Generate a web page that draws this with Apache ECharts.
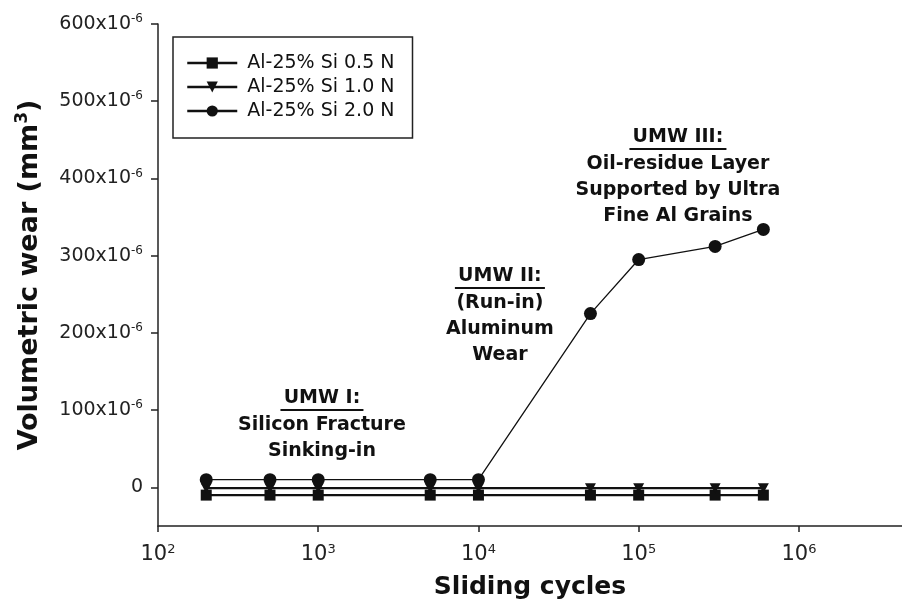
<!DOCTYPE html>
<html><head><meta charset="utf-8">
<script src="https://cdn.jsdelivr.net/npm/echarts@6/dist/echarts.min.js"></script>
<style>html,body{margin:0;padding:0;background:#fff}#c{width:902px;height:606px}</style>
</head><body><div id="c"></div>
<script>
// ---- data ----
const cycles = [200, 500, 1000, 5000, 10000, 50000, 100000, 300000, 600000];
const wear05 = [-10e-6, -10e-6, -10e-6, -10e-6, -10e-6, -10e-6, -10e-6, -10e-6, -10e-6];
const wear10 = [-1e-6, -1e-6, -1e-6, -1e-6, -1e-6, -1e-6, -1e-6, -1e-6, -1e-6];
const wear20 = [10e-6, 10e-6, 10e-6, 10e-6, 10e-6, 225e-6, 295e-6, 312e-6, 334e-6];
const seriesNames = ['Al-25% Si 0.5 N', 'Al-25% Si 1.0 N', 'Al-25% Si 2.0 N'];
const yTickValues = [0, 100e-6, 200e-6, 300e-6, 400e-6, 500e-6, 600e-6];
const xTickValues = [1e2, 1e3, 1e4, 1e5, 1e6];
const annoX = [1055, 13610, 175800];
const annoY = [79.5e-6, 220.6e-6, 400.6e-6];
const annoTitles = ['UMW I:', 'UMW II:', 'UMW III:'];
const annoLines = [
  ['Silicon Fracture', 'Sinking-in'],
  ['(Run-in)', 'Aluminum', 'Wear'],
  ['Oil-residue Layer', 'Supported by Ultra', 'Fine Al Grains']
];

const FONT = 'DejaVu Sans';
const INK = '#111';
const ctx = document.createElement('canvas').getContext('2d');
ctx.font = 'bold 19px "DejaVu Sans"';

const annoData = annoTitles.map((t, i) => {
  const w = Math.round(ctx.measureText(t).width) + 6;
  return {
    value: [annoX[i], annoY[i]],
    label: {
      formatter: '{u|' + t + '}\n{ul| }\n' + annoLines[i].map(s => '{t|' + s + '}').join('\n'),
      rich: {
        u: {fontFamily: FONT, fontWeight: 'bold', fontSize: 19, lineHeight: 20, color: INK, align: 'center'},
        ul: {width: w, height: 2, lineHeight: 4, fontSize: 1, backgroundColor: INK, align: 'center'},
        t: {fontFamily: FONT, fontWeight: 'bold', fontSize: 19, lineHeight: 26, color: INK, align: 'center'}
      }
    }
  };
});

const axisLineStyle = {color: '#222', width: 1.5};
const chart = echarts.init(document.getElementById('c'), null, {renderer: 'canvas'});
chart.setOption({
  animation: false,
  backgroundColor: '#fff',
  grid: {left: 158, right: 0, top: 24, bottom: 80, containLabel: false},
  legend: {
    orient: 'vertical', left: 173, top: 37,
    padding: [16, 18, 17, 13],
    itemWidth: 50, itemHeight: 14, itemGap: 4,
    borderColor: '#222', borderWidth: 1.5, backgroundColor: '#fff',
    selectedMode: false,
    lineStyle: {width: 2.5, color: INK},
    textStyle: {fontFamily: FONT, fontSize: 19, color: INK, lineHeight: 20, padding: [0, 0, 0, 5]},
    data: seriesNames
  },
  xAxis: {
    type: 'log', logBase: 10, min: 100, max: 4.4e6,
    axisLine: {show: true, onZero: false, lineStyle: axisLineStyle},
    axisTick: {show: true, length: 6, customValues: xTickValues, lineStyle: axisLineStyle},
    minorTick: {show: false},
    splitLine: {show: false},
    axisLabel: {
      customValues: xTickValues, margin: 17,
      formatter: v => '{m|10}{s|' + Math.round(Math.log10(v)) + '}',
      rich: {
        m: {fontFamily: FONT, fontSize: 21, color: '#222', lineHeight: 24, verticalAlign: 'middle'},
        s: {fontFamily: FONT, fontSize: 13, color: '#222', lineHeight: 16, verticalAlign: 'top'}
      }
    },
    name: 'Sliding cycles', nameLocation: 'middle', nameGap: 49,
    nameTextStyle: {fontFamily: FONT, fontWeight: 'bold', fontSize: 25, color: INK}
  },
  yAxis: {
    type: 'value', min: -50e-6, max: 600e-6,
    axisLine: {show: true, onZero: false, lineStyle: axisLineStyle},
    axisTick: {show: true, length: 7, customValues: yTickValues, lineStyle: axisLineStyle},
    splitLine: {show: false},
    axisLabel: {
      customValues: yTickValues, margin: 15,
      formatter: v => Math.abs(v) < 1e-12 ? '{m|0}' : '{m|' + Math.round(v * 1e6) + 'x10}{s|-6}',
      rich: {
        m: {fontFamily: FONT, fontSize: 19, color: '#222', lineHeight: 22, verticalAlign: 'middle'},
        s: {fontFamily: FONT, fontSize: 12, color: '#222', lineHeight: 8, verticalAlign: 'top'}
      }
    },
    name: '{a|Volumetric wear (mm}{b|3}{a|)}', nameLocation: 'middle', nameGap: 112, nameRotate: 90,
    nameTextStyle: {
      rich: {
        a: {fontFamily: FONT, fontWeight: 'bold', fontSize: 27, color: INK, lineHeight: 32, verticalAlign: 'middle'},
        b: {fontFamily: FONT, fontWeight: 'bold', fontSize: 17, color: INK, lineHeight: 12, verticalAlign: 'top'}
      }
    }
  },
  series: [
    {
      name: seriesNames[0], type: 'line', z: 2,
      data: cycles.map((c, i) => [c, wear05[i]]),
      symbol: 'rect', symbolSize: 11, showAllSymbol: true,
      lineStyle: {color: INK, width: 2.2}, itemStyle: {color: INK},
      emphasis: {disabled: true}
    },
    {
      name: seriesNames[1], type: 'line', z: 3,
      data: cycles.map((c, i) => [c, wear10[i]]),
      symbol: 'path://M0,0 L10,0 L5,9 Z', symbolSize: [11, 10], showAllSymbol: true,
      lineStyle: {color: INK, width: 2.2}, itemStyle: {color: INK},
      emphasis: {disabled: true}
    },
    {
      name: seriesNames[2], type: 'line', z: 4,
      data: cycles.map((c, i) => [c, wear20[i]]),
      symbol: 'circle', symbolSize: 13, showAllSymbol: true,
      lineStyle: {color: INK, width: 1.3}, itemStyle: {color: INK},
      emphasis: {disabled: true}
    },
    {
      name: 'annotations', type: 'scatter', silent: true, z: 5,
      symbolSize: 0,
      itemStyle: {opacity: 1, color: INK},
      label: {show: true, position: 'inside', color: INK, opacity: 1, textBorderWidth: 0},
      data: annoData
    }
  ]
});
</script>
</body></html>
